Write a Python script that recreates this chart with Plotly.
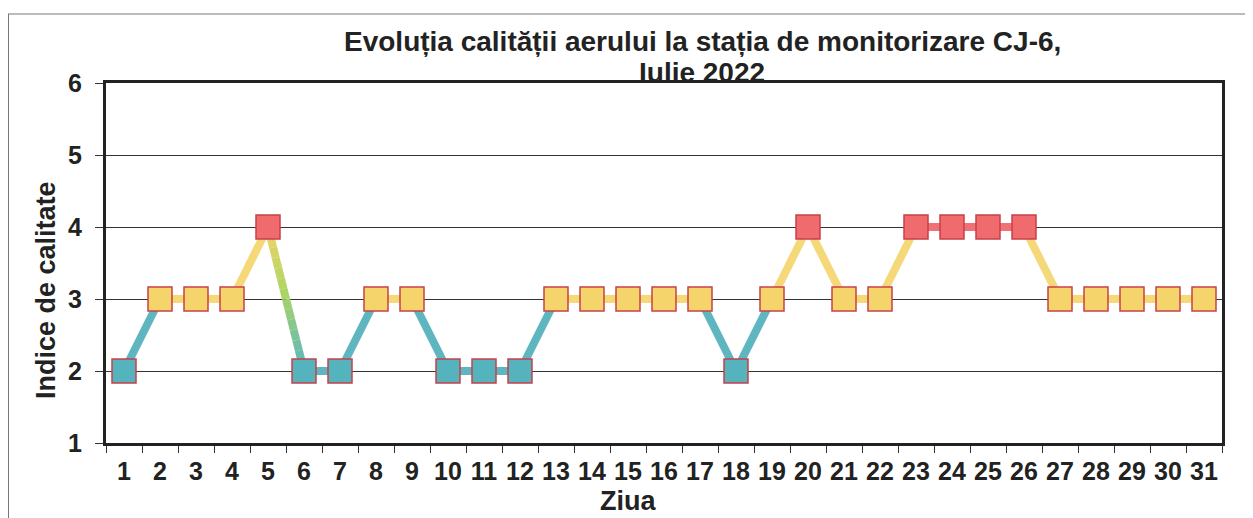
import plotly.graph_objects as go

days = list(range(1, 32))
index_values = [2, 3, 3, 3, 4, 2, 2, 3, 3, 2, 2, 2, 3, 3, 3, 3, 3, 2, 3, 4, 3, 3, 4, 4, 4, 4, 3, 3, 3, 3, 3]
y_ticks = [1, 2, 3, 4, 5, 6]
title_line1 = "Evoluția calității aerului la stația de monitorizare CJ-6,"
title_line2 = "Iulie 2022"
x_title = "Ziua"
y_title = "Indice de calitate"

marker_colors = {2: "#55b3be", 3: "#f5d46c", 4: "#f06b6e"}
line_colors = {2: "#5fb6c0", 3: "#f5d878", 4: "#f07276"}
gradient_stops = [(0.0, (242, 212, 105)), (0.45, (175, 212, 100)), (1.0, (85, 182, 198))]
FONT = "Liberation Sans, Arial, sans-serif"

# page has an 8px body margin; figure is sized to fit the window
OFF = 8
W, H = 1253 - OFF, 518 - OFF
L, R, T, B = 106 - OFF, 1253 - 1222, 83 - OFF, 518 - 443
PW, PH = W - L - R, H - T - B


def px(x):
    return (x - OFF - L) / PW


def py(y):
    return (H - B - (y - OFF)) / PH


def grad(f):
    for (f0, c0), (f1, c1) in zip(gradient_stops[:-1], gradient_stops[1:]):
        if f <= f1:
            t = (f - f0) / (f1 - f0)
            return tuple(int(c0[j] + (c1[j] - c0[j]) * t) for j in range(3))
    return gradient_stops[-1][1]


fig = go.Figure()

for i in range(len(days) - 1):
    x0, x1 = days[i], days[i + 1]
    a, b = index_values[i], index_values[i + 1]
    lo, hi = min(a, b), max(a, b)
    if hi - lo >= 2:
        n = 14
        for k in range(n):
            t0, t1 = k / n, (k + 1) / n
            xs = [x0 + (x1 - x0) * t0, x0 + (x1 - x0) * t1]
            ys = [a + (b - a) * t0, a + (b - a) * t1]
            tm = (t0 + t1) / 2
            f = tm if a > b else 1 - tm
            c = grad(f)
            fig.add_trace(go.Scatter(x=xs, y=ys, mode="lines",
                                     line=dict(color="rgb(%d,%d,%d)" % c, width=8),
                                     hoverinfo="skip", showlegend=False))
    else:
        fig.add_trace(go.Scatter(x=[x0, x1], y=[a, b], mode="lines",
                                 line=dict(color=line_colors[lo], width=8),
                                 hoverinfo="skip", showlegend=False))

fig.add_trace(go.Scatter(
    x=days, y=index_values, mode="markers",
    marker=dict(symbol="square", size=24,
                color=[marker_colors[v] for v in index_values],
                line=dict(color="#c8404a", width=1.5)),
    showlegend=False))

fig.update_layout(
    width=W, height=H,
    margin=dict(l=L, r=R, t=T, b=B, pad=0),
    paper_bgcolor="white", plot_bgcolor="white",
    font=dict(family=FONT, color="#222"),
    xaxis=dict(range=[0.5, 31.5], tickvals=days, ticktext=[str(d) for d in days],
               ticks="", showgrid=False, zeroline=False,
               showline=True, linecolor="#222", linewidth=3, mirror=True,
               tickfont=dict(size=25, family=FONT, color="#222", weight="bold"),
               ticklabelstandoff=4,
               minor=dict(ticks="outside", ticklen=7, tick0=0.5, dtick=1,
                          tickcolor="#333", tickwidth=1, showgrid=False)),
    yaxis=dict(range=[1, 6], tickvals=y_ticks, ticks="outside", ticklen=8,
               tickcolor="#333", tickwidth=1,
               showgrid=True, gridcolor="#333", gridwidth=1, zeroline=False,
               showline=True, linecolor="#222", linewidth=3, mirror=True,
               tickfont=dict(size=25, family=FONT, color="#222", weight="bold"),
               ticklabelstandoff=8),
    annotations=[
        dict(text="<b>" + title_line1 + "</b>", x=px(702), y=py(42), xref="paper", yref="paper",
             showarrow=False, xanchor="center", yanchor="middle",
             font=dict(size=28, family=FONT, color="#222")),
        dict(text="<b>" + title_line2 + "</b>", x=px(702), y=py(72), xref="paper", yref="paper",
             showarrow=False, xanchor="center", yanchor="middle",
             font=dict(size=28, family=FONT, color="#222")),
        dict(text="<b>" + x_title + "</b>", x=px(628), y=py(501), xref="paper", yref="paper",
             showarrow=False, xanchor="center", yanchor="middle",
             font=dict(size=27, family=FONT, color="#222")),
        dict(text="<b>" + y_title + "</b>", x=px(46), y=py(290), xref="paper", yref="paper",
             showarrow=False, xanchor="center", yanchor="middle", textangle=-90,
             font=dict(size=27, family=FONT, color="#222")),
    ],
    shapes=[
        dict(type="line", xref="paper", yref="paper", x0=px(8), x1=px(1253), y0=py(14), y1=py(14),
             line=dict(color="#777", width=1)),
        dict(type="line", xref="paper", yref="paper", x0=px(8.5), x1=px(8.5), y0=py(14), y1=py(518),
             line=dict(color="#777", width=1)),
    ],
)

fig.write_html("out.html")
